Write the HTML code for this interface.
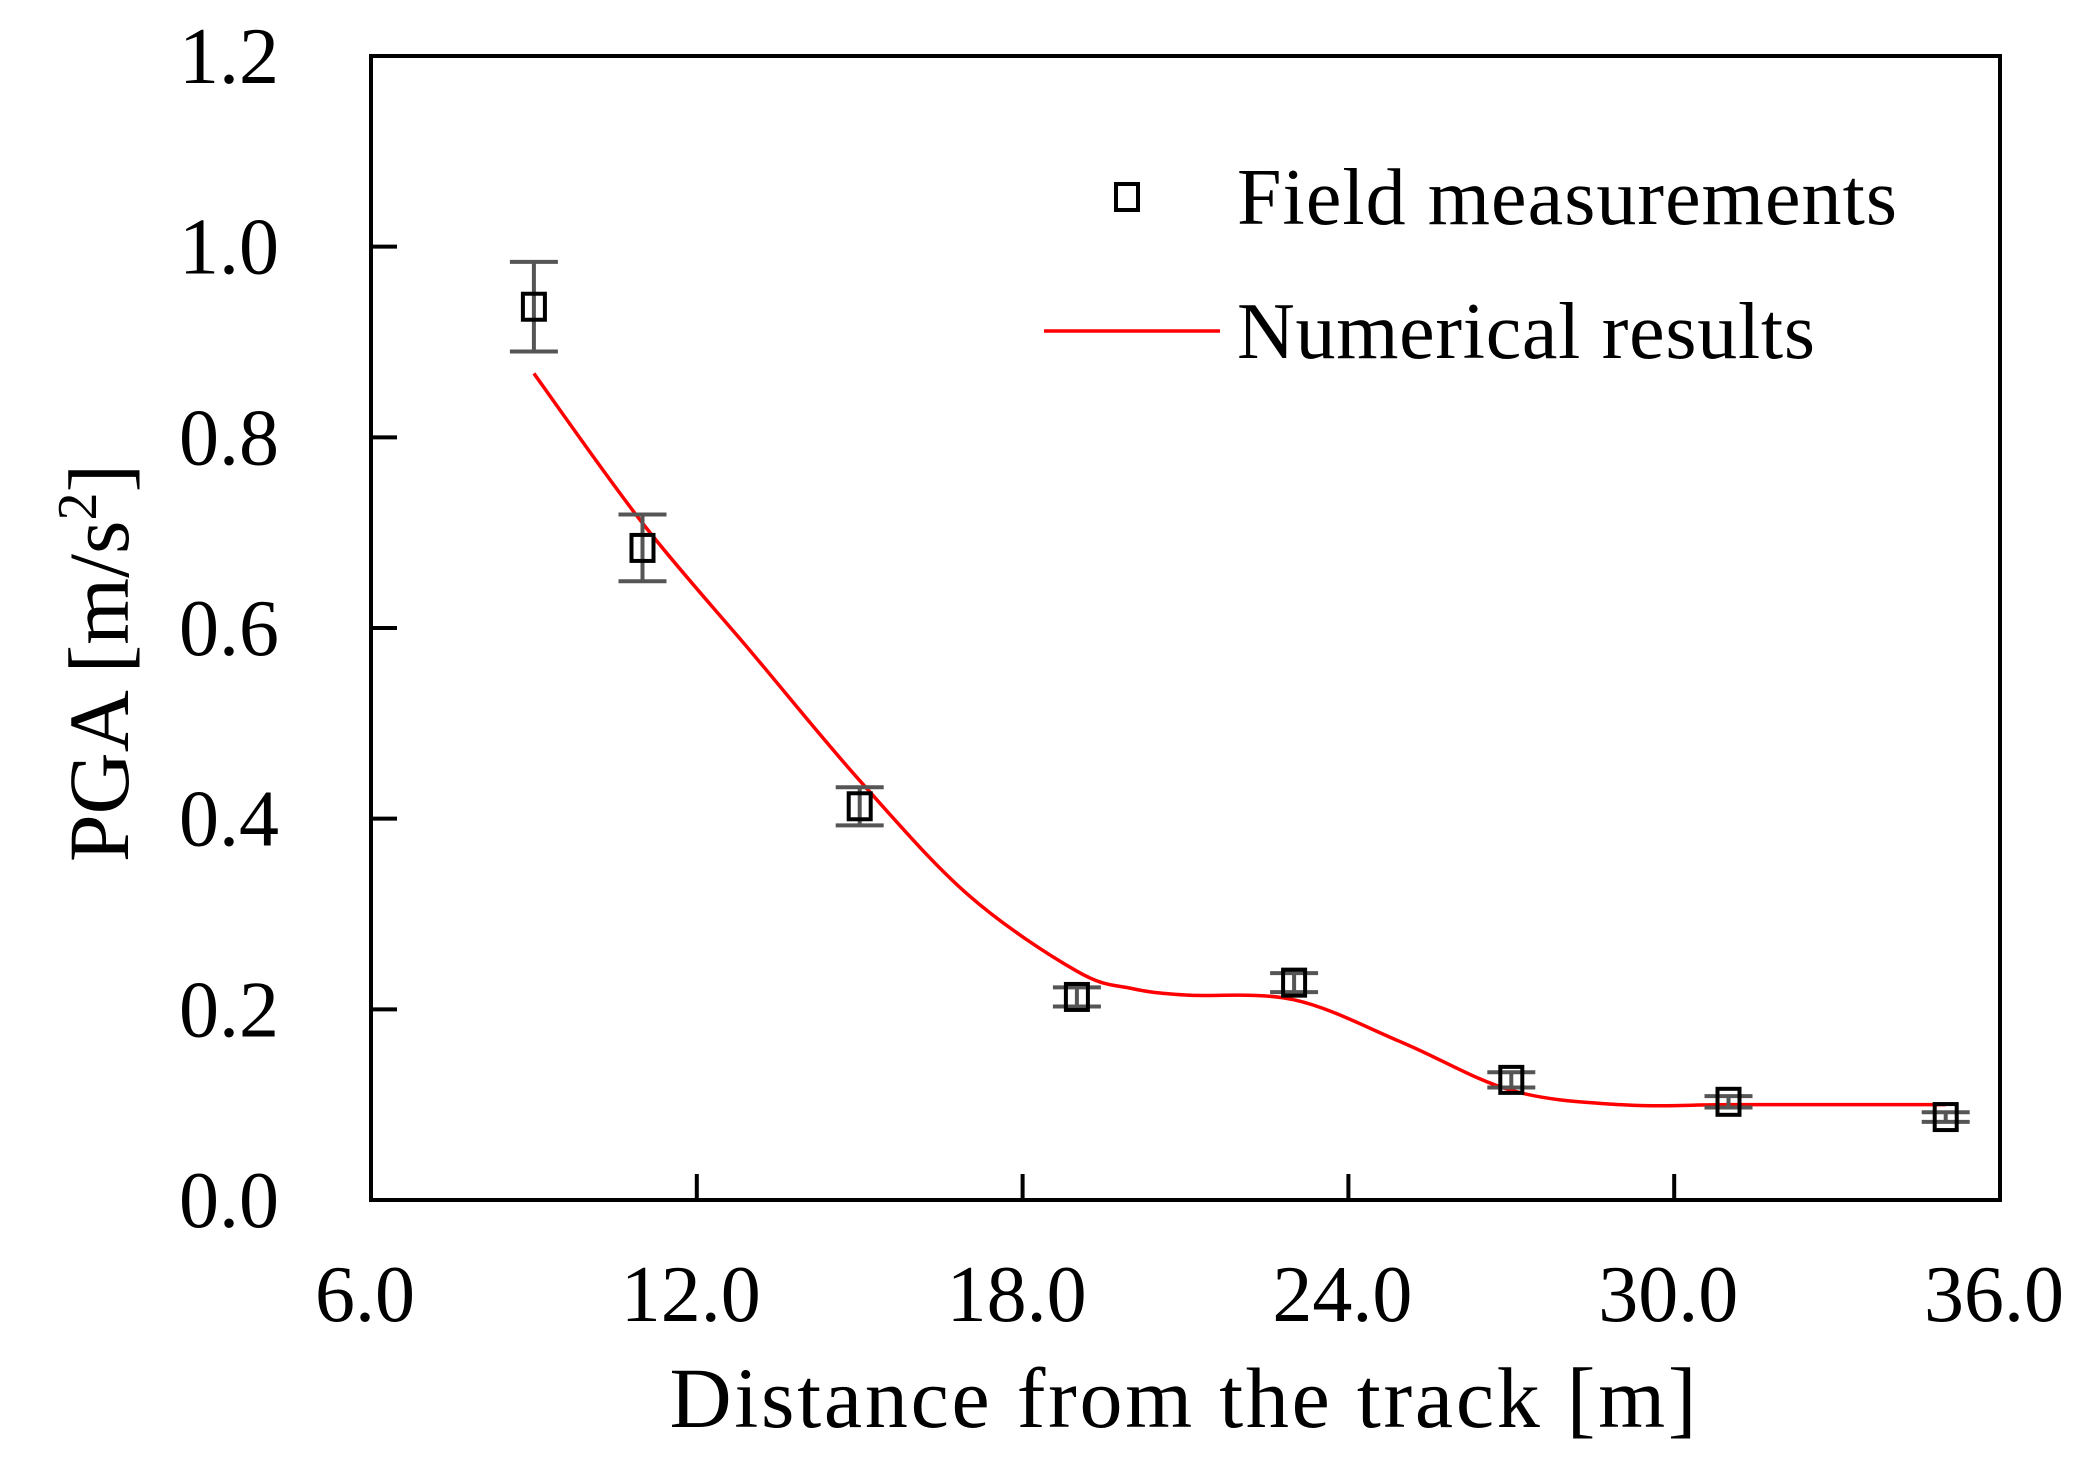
<!DOCTYPE html>
<html><head><meta charset="utf-8"><style>
html,body{margin:0;padding:0;background:#fff;}
svg{display:block;font-family:"Liberation Serif","Times New Roman",serif;}
</style></head><body>
<svg id="chart" width="2080" height="1462" viewBox="0 0 2080 1462">
<g id="plot"></g>
</svg>
<script>
const xTicks=[6,12,18,24,30,36];
const xTickLabels=["6.0","12.0","18.0","24.0","30.0","36.0"];
const yTicks=[0,0.2,0.4,0.6,0.8,1.0,1.2];
const yTickLabels=["0.0","0.2","0.4","0.6","0.8","1.0","1.2"];
const measX=[9,11,15,19,23,27,31,35];
const measY=[0.937,0.684,0.413,0.213,0.228,0.126,0.103,0.087];
const measErr=[0.047,0.035,0.02,0.01,0.01,0.008,0.006,0.005];
const numX=[9,11,13,15,17,19,20,21,23,25,27,29,31,33,35];
const numY=[0.867,0.71,0.575,0.44,0.32,0.24,0.222,0.215,0.21,0.165,0.115,0.10,0.10,0.10,0.10];

const L=371,R=2000,T=56,B=1200;
const sx=v=>L+(v-6)/30*(R-L);
const sy=v=>B-v/1.2*(B-T);
const NS="http://www.w3.org/2000/svg";
const g=document.getElementById('plot');
function mk(tag,attrs,parent){const e=document.createElementNS(NS,tag);for(const k in attrs)e.setAttribute(k,attrs[k]);(parent||g).appendChild(e);return e;}

let frame=mk('rect',{x:L,y:T,width:R-L,height:B-T,fill:'none',stroke:'#000','stroke-width':4});



xTicks.forEach((v,i)=>{
  const t=mk('line',{x1:sx(v),x2:sx(v),y1:B,y2:B-26,stroke:'#000','stroke-width':4});
  
  
  const lb=mk('text',{x:sx(v)-6,y:B+121,'text-anchor':'middle','font-size':80,fill:'#000'});
  lb.textContent=xTickLabels[i];
  
  
});
yTicks.forEach((v,i)=>{
  const t=mk('line',{x1:L,x2:L+26,y1:sy(v),y2:sy(v),stroke:'#000','stroke-width':4});
  
  
  const lb=mk('text',{x:279,y:sy(v)+27,'text-anchor':'end','font-size':80,fill:'#000'});
  lb.textContent=yTickLabels[i];
  
  
});

const P=numX.map((x,i)=>[sx(x),sy(numY[i])]);
let d='M'+P[0][0]+','+P[0][1];
for(let i=0;i<P.length-1;i++){
  const p0=P[i-1]||P[i],p1=P[i],p2=P[i+1],p3=P[i+2]||P[i+1];
  const c1=[p1[0]+(p2[0]-p0[0])/6,p1[1]+(p2[1]-p0[1])/6];
  const c2=[p2[0]-(p3[0]-p1[0])/6,p2[1]-(p3[1]-p1[1])/6];
  d+=' C'+c1+' '+c2+' '+p2;
}
const curve=mk('path',{d:d,fill:'none',stroke:'#ff0000','stroke-width':3.5});



measX.forEach((x,i)=>{
  const cx=sx(x),cy=sy(measY[i]),e1=sy(measY[i]+measErr[i]),e2=sy(measY[i]-measErr[i]);
  const eb=mk('path',{d:`M${cx},${e1}V${e2}M${cx-24},${e1}H${cx+24}M${cx-24},${e2}H${cx+24}`,stroke:'#555','stroke-width':4,fill:'none'});
  
  
  const m=mk('rect',{x:cx-11,y:cy-13,width:22,height:26,fill:'none',stroke:'#000','stroke-width':4});
  
  
});

const lm=mk('rect',{x:1116,y:184,width:22,height:26,fill:'none',stroke:'#000','stroke-width':4});


const lt1=mk('text',{x:1237,y:224,'font-size':80,fill:'#000',textLength:660});
lt1.textContent='Field measurements';


const ll=mk('line',{x1:1044,x2:1220,y1:331,y2:331,stroke:'#ff0000','stroke-width':3.5});


const lt2=mk('text',{x:1237,y:358,'font-size':80,fill:'#000',textLength:578});
lt2.textContent='Numerical results';



const xt=mk('text',{x:1183,y:1427,'text-anchor':'middle','font-size':86,fill:'#000',textLength:1027});
xt.textContent='Distance from the track [m]';


const yt=mk('text',{x:0,y:0,'text-anchor':'middle','font-size':86,fill:'#000',transform:'translate(128,663) rotate(-90)'});
yt.innerHTML='PGA [m/s<tspan font-size="56" dy="-32">2</tspan><tspan dy="32">]</tspan>';


</script>
</body></html>
